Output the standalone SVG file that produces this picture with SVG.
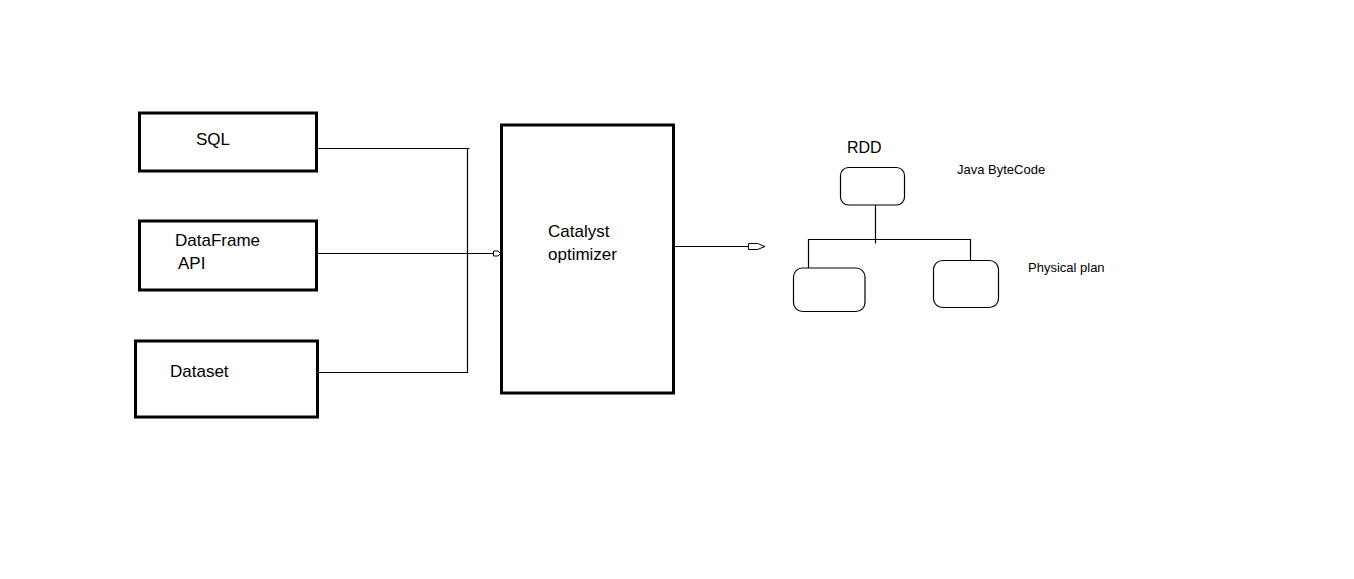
<svg xmlns="http://www.w3.org/2000/svg" width="1354" height="579" viewBox="0 0 1354 579">
<style>
.box{fill:#fff;stroke:#000;stroke-width:3}
.rbox{fill:#fff;stroke:#000;stroke-width:1.2}
.ln{fill:none;stroke:#000;stroke-width:1.2}
.arr{fill:#fff;stroke:#000;stroke-width:1}
.t{font-family:"Liberation Sans",Arial,sans-serif;font-size:17px;fill:#000}
.s{font-family:"Liberation Sans",Arial,sans-serif;font-size:13px;fill:#000}
</style>
<rect width="1354" height="579" fill="#fff"/>
<g id="connectors">
<polyline class="ln" points="316,148.5 469.5,148.5"/>
<polyline class="ln" points="467.5,148.5 467.5,372.5 318,372.5"/>
<polyline class="ln" points="318,253.5 494,253.5"/>
<polygon class="arr" points="493.5,251 498,251 500.5,253.5 498,256 493.5,256"/>
<polyline class="ln" points="674,246.5 748,246.5"/>
<polygon class="arr" points="748.5,243.5 757.5,243.5 765,246.5 757.5,249.5 748.5,249.5"/>
<polyline class="ln" points="875.5,205 875.5,243.5"/>
<polyline class="ln" points="808.5,268 808.5,239.5 970.5,239.5 970.5,263"/>
</g>
<g id="sql"><rect class="box" x="139.5" y="113" width="177" height="58"/><text class="t" x="196" y="145">SQL</text></g>
<g id="dataframe"><rect class="box" x="139.5" y="221" width="177" height="69"/><text class="t" x="175" y="246">DataFrame</text><text class="t" x="178" y="269">API</text></g>
<g id="dataset"><rect class="box" x="135.5" y="341" width="182" height="76"/><text class="t" x="170" y="377">Dataset</text></g>
<g id="catalyst"><rect class="box" x="501.5" y="125" width="172" height="268"/><text class="t" x="548" y="237">Catalyst</text><text class="t" x="548" y="260">optimizer</text></g>
<g id="rdd"><text x="847" y="153" class="t" style="font-size:16px">RDD</text><rect class="rbox" x="840.5" y="167.5" width="64" height="37.5" rx="8"/></g>
<g id="java-bytecode"><text class="s" x="957" y="174">Java ByteCode</text></g>
<g id="plan-left"><rect class="rbox" x="793.5" y="268" width="71.5" height="43.5" rx="9"/></g>
<g id="plan-right"><rect class="rbox" x="933.5" y="260.5" width="65" height="47" rx="9"/></g>
<g id="physical-plan"><text class="s" x="1028" y="272">Physical plan</text></g>
</svg>
